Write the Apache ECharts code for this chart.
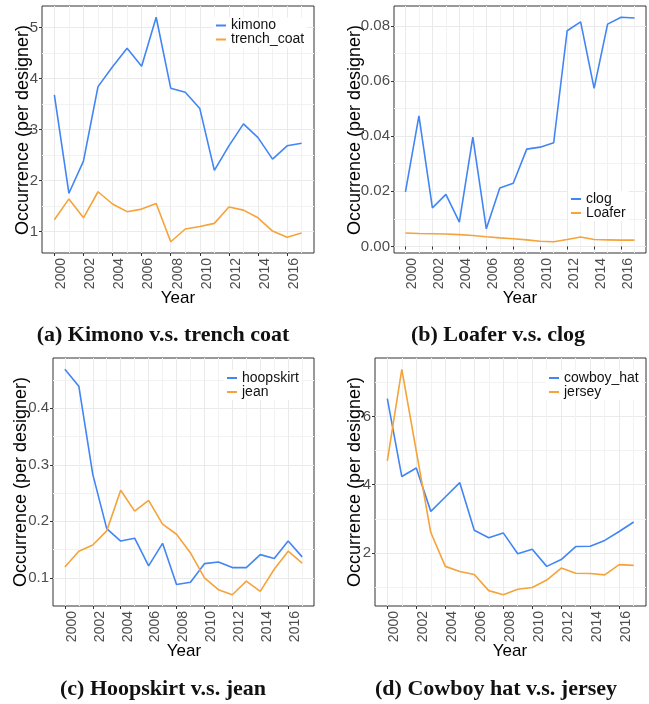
<!DOCTYPE html>
<html>
<head>
<meta charset="utf-8">
<script src="https://cdn.jsdelivr.net/npm/echarts@6/dist/echarts.min.js"></script>
<style>
  html, body { margin: 0; padding: 0; background: #fff; }
  #chart { width: 649px; height: 704px; }
</style>
</head>
<body>
<div id="chart"></div>
<script>
const years = [2000, 2001, 2002, 2003, 2004, 2005, 2006, 2007, 2008, 2009, 2010, 2011, 2012, 2013, 2014, 2015, 2016, 2017];
const yearLabels = [2000, 2002, 2004, 2006, 2008, 2010, 2012, 2014, 2016];

// (a)
const kimono = [3.68, 1.75, 2.38, 3.84, 4.23, 4.59, 4.24, 5.20, 3.81, 3.73, 3.41, 2.20, 2.68, 3.11, 2.84, 2.42, 2.68, 2.73];
const trenchCoat = [1.23, 1.64, 1.27, 1.78, 1.54, 1.39, 1.44, 1.55, 0.80, 1.05, 1.10, 1.16, 1.48, 1.42, 1.27, 1.01, 0.89, 0.97];
const ticksA = [1, 2, 3, 4, 5];
const minorA = [1.5, 2.5, 3.5, 4.5];

// (b)
const clog = [0.0198, 0.0473, 0.0140, 0.0189, 0.0088, 0.0396, 0.0064, 0.0212, 0.0229, 0.0353, 0.0360, 0.0376, 0.0782, 0.0814, 0.0573, 0.0806, 0.0831, 0.0828];
const loafer = [0.0049, 0.0047, 0.0046, 0.0045, 0.0043, 0.0040, 0.0035, 0.0031, 0.0028, 0.0024, 0.0019, 0.0017, 0.0025, 0.0034, 0.0025, 0.0024, 0.0023, 0.0023];
const ticksB = [0, 0.02, 0.04, 0.06, 0.08];
const minorB = [0.01, 0.03, 0.05, 0.07];

// (c)
const hoopskirt = [0.469, 0.439, 0.283, 0.187, 0.165, 0.170, 0.121, 0.161, 0.088, 0.092, 0.125, 0.128, 0.118, 0.118, 0.141, 0.134, 0.165, 0.137];
const jean = [0.119, 0.147, 0.158, 0.183, 0.255, 0.218, 0.237, 0.195, 0.177, 0.144, 0.100, 0.079, 0.070, 0.094, 0.076, 0.115, 0.147, 0.126];
const ticksC = [0.1, 0.2, 0.3, 0.4];
const minorC = [0.05, 0.15, 0.25, 0.35, 0.45];

// (d)
const cowboyHat = [6.52, 4.24, 4.49, 3.22, 3.64, 4.06, 2.67, 2.45, 2.59, 1.98, 2.11, 1.61, 1.81, 2.19, 2.20, 2.37, 2.63, 2.91];
const jersey = [4.70, 7.38, 4.98, 2.60, 1.61, 1.46, 1.37, 0.90, 0.78, 0.94, 0.99, 1.21, 1.56, 1.41, 1.40, 1.36, 1.66, 1.64];
const ticksD = [2, 4, 6];
const minorD = [1, 3, 5, 7];

const BLUE = '#4285F4';
const ORANGE = '#F5A33A';
const SANS = '"Liberation Sans", Arial, sans-serif';

const panels = [
    { grid: { left: 42, top: 6, width: 272, height: 247 }, names: ['kimono', 'trench_coat'], values: [kimono, trenchCoat],
      ticks: ticksA, minor: minorA, digits: 0, legend: { left: 213, top: 17.5 },
      yTitle: [23.5, 130], xTitle: [178, 298], caption: ['(a) Kimono v.s. trench coat', 163, 335] },
    { grid: { left: 394, top: 6, width: 252, height: 247 }, names: ['clog', 'Loafer'], values: [clog, loafer],
      ticks: ticksB, minor: minorB, digits: 2, legend: { left: 568, top: 191 },
      yTitle: [355.5, 130], xTitle: [520, 298], caption: ['(b) Loafer v.s. clog', 498, 335] },
    { grid: { left: 53, top: 358, width: 261, height: 248 }, names: ['hoopskirt', 'jean'], values: [hoopskirt, jean],
      ticks: ticksC, minor: minorC, digits: 1, legend: { left: 224, top: 370 },
      yTitle: [21.5, 482], xTitle: [184, 651], caption: ['(c) Hoopskirt v.s. jean', 163, 689] },
    { grid: { left: 375, top: 358, width: 271, height: 248 }, names: ['cowboy_hat', 'jersey'], values: [cowboyHat, jersey],
      ticks: ticksD, minor: minorD, digits: 0, legend: { left: 546, top: 370 },
      yTitle: [355.5, 482], xTitle: [510, 651], caption: ['(d) Cowboy hat v.s. jersey', 496, 689] }
];

// ggplot-style 5% expansion of the data range
function expand(arrs) {
    let all = [].concat(...arrs);
    let lo = Math.min(...all), hi = Math.max(...all);
    let pad = (hi - lo) * 0.05;
    return [lo - pad, hi + pad];
}

const xMin = years[0] - (years[years.length - 1] - years[0]) * 0.05;
const xMax = years[years.length - 1] + (years[years.length - 1] - years[0]) * 0.05;

let grids = [], xAxes = [], yAxes = [], series = [], legends = [], graphics = [];

panels.forEach((p, i) => {
    grids.push(Object.assign({ show: true, borderColor: '#333', borderWidth: 1, backgroundColor: 'transparent' }, p.grid));

    // all-year gridlines (faint), then labelled axis with major gridlines
    xAxes.push({
        type: 'value', gridIndex: i, position: 'bottom', min: xMin, max: xMax,
        axisLine: { show: false }, axisLabel: { show: false },
        axisTick: { show: false, customValues: years },
        splitLine: { show: true, lineStyle: { color: '#F2F2F2', width: 1 } }
    });
    xAxes.push({
        type: 'value', gridIndex: i, position: 'bottom', min: xMin, max: xMax,
        axisLine: { show: false },
        axisTick: { show: true, length: 3, customValues: yearLabels, lineStyle: { color: '#333' } },
        axisLabel: { customValues: yearLabels, rotate: 90, margin: 5, fontSize: 14, fontFamily: SANS, color: '#4D4D4D',
                     verticalAlign: 'top', formatter: v => String(v) },
        splitLine: { show: true, lineStyle: { color: '#EAEAEA', width: 1 } }
    });

    let [lo, hi] = expand(p.values);
    yAxes.push({
        type: 'value', gridIndex: i, position: 'left', min: lo, max: hi,
        axisLine: { show: false }, axisLabel: { show: false },
        axisTick: { show: false, customValues: p.minor },
        splitLine: { show: true, lineStyle: { color: '#F2F2F2', width: 1 } }
    });
    yAxes.push({
        type: 'value', gridIndex: i, position: 'left', min: lo, max: hi,
        axisLine: { show: false },
        axisTick: { show: true, length: 3, customValues: p.ticks, lineStyle: { color: '#333' } },
        axisLabel: { customValues: p.ticks, margin: 4, fontSize: 15, fontFamily: SANS, color: '#4D4D4D',
                     formatter: v => v.toFixed(p.digits) },
        splitLine: { show: true, lineStyle: { color: '#EAEAEA', width: 1 } }
    });

    p.names.forEach((name, k) => {
        series.push({
            name: name, type: 'line', xAxisIndex: 2 * i + 1, yAxisIndex: 2 * i + 1,
            data: years.map((y, j) => [y, p.values[k][j]]),
            showSymbol: false, symbol: 'none',
            lineStyle: { width: 1.6, color: k === 0 ? BLUE : ORANGE },
            itemStyle: { color: k === 0 ? BLUE : ORANGE },
            z: 3
        });
    });

    legends.push({
        data: p.names, orient: 'vertical', left: p.legend.left, top: p.legend.top,
        icon: 'rect', itemWidth: 10, itemHeight: 2, itemGap: 0,
        backgroundColor: '#fff', padding: [1, 3],
        textStyle: { fontSize: 14, lineHeight: 13, fontFamily: SANS, color: '#111' },
        selectedMode: false
    });

    graphics.push({
        type: 'text', x: p.yTitle[0], y: p.yTitle[1], rotation: Math.PI / 2,
        style: { text: 'Occurrence (per designer)', font: '18px ' + SANS, fill: '#000',
                 align: 'center', verticalAlign: 'middle', textAlign: 'center', textVerticalAlign: 'middle' }
    });
    graphics.push({
        type: 'text', x: p.xTitle[0], y: p.xTitle[1],
        style: { text: 'Year', font: '17px ' + SANS, fill: '#000',
                 align: 'center', verticalAlign: 'middle', textAlign: 'center', textVerticalAlign: 'middle' }
    });
    graphics.push({
        type: 'text', x: p.caption[1], y: p.caption[2],
        style: { text: p.caption[0], font: 'bold 22px "Liberation Serif", serif', fill: '#111',
                 align: 'center', verticalAlign: 'middle', textAlign: 'center', textVerticalAlign: 'middle' }
    });
});

let chart = echarts.init(document.getElementById('chart'), null, { renderer: 'canvas' });
chart.setOption({
    animation: false,
    backgroundColor: '#fff',
    grid: grids,
    xAxis: xAxes,
    yAxis: yAxes,
    legend: legends,
    series: series,
    graphic: graphics
});
</script>
</body>
</html>
